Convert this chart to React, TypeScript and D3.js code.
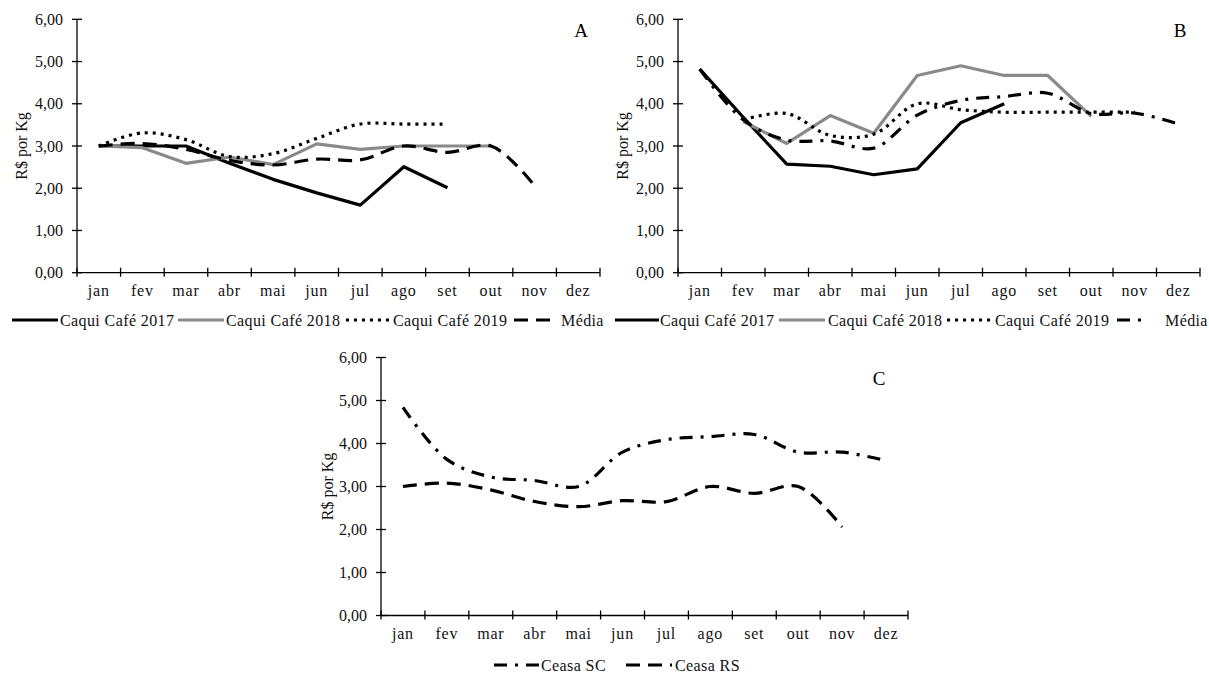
import React, { useEffect, useRef } from "react";
import * as d3 from "d3";

const months = ["jan", "fev", "mar", "abr", "mai", "jun", "jul", "ago", "set", "out", "nov", "dez"];
const yTicks = [0, 1, 2, 3, 4, 5, 6];

// Painel A
const caqui2017A = [3.0, 3.0, 3.0, 2.59, 2.21, 1.89, 1.6, 2.51, 2.01, null, null, null];
const caqui2018A = [3.0, 2.96, 2.59, 2.74, 2.56, 3.05, 2.92, 3.0, 3.0, 3.0, null, null];
const caqui2019A = [3.0, 3.31, 3.15, 2.75, 2.82, 3.18, 3.52, 3.52, 3.52, null, null, null];
const mediaA = [3.0, 3.06, 2.92, 2.66, 2.55, 2.69, 2.67, 3.0, 2.85, 3.0, 2.06, null];

// Painel B
const caqui2017B = [4.82, 3.68, 2.57, 2.52, 2.32, 2.46, 3.55, 4.0, null, null, null, null];
const caqui2018B = [null, 3.58, 3.06, 3.72, 3.3, 4.67, 4.9, 4.67, 4.67, 3.7, null, null];
const caqui2019B = [null, 3.62, 3.77, 3.25, 3.28, 4.0, 3.86, 3.8, 3.8, 3.8, 3.8, null];
const mediaB = [4.82, 3.62, 3.14, 3.12, 2.95, 3.73, 4.08, 4.17, 4.25, 3.77, 3.78, 3.52];

// Painel C
const ceasaSC = [4.84, 3.63, 3.22, 3.14, 3.0, 3.8, 4.09, 4.16, 4.21, 3.8, 3.8, 3.6];
const ceasaRS = [3.0, 3.08, 2.92, 2.65, 2.53, 2.67, 2.65, 3.0, 2.84, 3.0, 2.06, null];

const FONT = "'Liberation Serif', 'Times New Roman', serif";

type Style = { color: string; dash: string | null; smooth: boolean };
const solidBlack: Style = { color: "#000", dash: null, smooth: false };
const solidGray: Style = { color: "#8a8a8a", dash: null, smooth: false };
const dotted: Style = { color: "#000", dash: "3,5", smooth: true };
const dashed: Style = { color: "#000", dash: "14,8", smooth: true };
const dashDot: Style = { color: "#000", dash: "13,8,3,8", smooth: true };

interface Series { name: string; values: (number | null)[]; style: Style }
interface LegendItem { label: string; style: Style; x1: number; x2: number; tx: number }
interface Panel {
  left: number; right: number; top: number; bottom: number;
  letter: string; letterX: number; letterY: number;
  titleX: number;
  series: Series[];
  legendY: number;
  legend: LegendItem[];
}

const panels: Panel[] = [
  {
    left: 77, right: 600, top: 19.3, bottom: 272.7,
    letter: "A", letterX: 581, letterY: 37, titleX: 21,
    series: [
      { name: "Caqui Café 2017", values: caqui2017A, style: solidBlack },
      { name: "Caqui Café 2018", values: caqui2018A, style: solidGray },
      { name: "Caqui Café 2019", values: caqui2019A, style: dotted },
      { name: "Média", values: mediaA, style: dashed },
    ],
    legendY: 320,
    legend: [
      { label: "Caqui Café 2017", style: solidBlack, x1: 12, x2: 58, tx: 60 },
      { label: "Caqui Café 2018", style: solidGray, x1: 178, x2: 224, tx: 226 },
      { label: "Caqui Café 2019", style: dotted, x1: 346, x2: 390, tx: 393 },
      { label: "Média", style: dashed, x1: 514, x2: 554, tx: 561 },
    ],
  },
  {
    left: 678, right: 1200, top: 19.3, bottom: 272.7,
    letter: "B", letterX: 1180, letterY: 37, titleX: 622,
    series: [
      { name: "Caqui Café 2017", values: caqui2017B, style: solidBlack },
      { name: "Caqui Café 2018", values: caqui2018B, style: solidGray },
      { name: "Caqui Café 2019", values: caqui2019B, style: dotted },
      { name: "Média", values: mediaB, style: dashDot },
    ],
    legendY: 320,
    legend: [
      { label: "Caqui Café 2017", style: solidBlack, x1: 615, x2: 659, tx: 660 },
      { label: "Caqui Café 2018", style: solidGray, x1: 779, x2: 825, tx: 828 },
      { label: "Caqui Café 2019", style: dotted, x1: 947, x2: 991, tx: 995 },
      { label: "Média", style: dashDot, x1: 1117, x2: 1149, tx: 1165 },
    ],
  },
  {
    left: 381, right: 908, top: 357.5, bottom: 615.5,
    letter: "C", letterX: 879, letterY: 385, titleX: 327,
    series: [
      { name: "Ceasa SC", values: ceasaSC, style: dashDot },
      { name: "Ceasa RS", values: ceasaRS, style: dashed },
    ],
    legendY: 665,
    legend: [
      { label: "Ceasa SC", style: dashDot, x1: 494, x2: 540, tx: 541 },
      { label: "Ceasa RS", style: dashed, x1: 626, x2: 672, tx: 675 },
    ],
  },
];

function drawPanel(svg: d3.Selection<SVGSVGElement, unknown, null, undefined>, p: Panel) {
  const g = svg.append("g");
  const x = d3.scaleBand<string>().domain(months).range([p.left, p.right]);
  const y = d3.scaleLinear().domain([0, 6]).range([p.bottom, p.top]);
  const cx = (i: number) => (x(months[i]) as number) + x.bandwidth() / 2;

  // eixo y
  g.append("line")
    .attr("x1", p.left).attr("x2", p.left)
    .attr("y1", y(6)).attr("y2", y(0))
    .attr("stroke", "#000").attr("stroke-width", 1.3);
  yTicks.forEach((t) => {
    g.append("line")
      .attr("x1", p.left - 5).attr("x2", p.left + 5)
      .attr("y1", y(t)).attr("y2", y(t))
      .attr("stroke", "#000").attr("stroke-width", 1.3);
    g.append("text")
      .attr("x", p.left - 14).attr("y", y(t)).attr("dy", "0.35em")
      .attr("text-anchor", "end")
      .style("font-family", FONT).style("font-size", "16px").style("fill", "#111")
      .text(d3.format(".2f")(t).replace(".", ","));
  });

  // eixo x
  g.append("line")
    .attr("x1", p.left).attr("x2", p.right)
    .attr("y1", y(0)).attr("y2", y(0))
    .attr("stroke", "#000").attr("stroke-width", 1.3);
  const bounds = months.map((m) => x(m) as number).concat([p.right]);
  bounds.forEach((b) => {
    g.append("line")
      .attr("x1", b).attr("x2", b)
      .attr("y1", y(0) - 5).attr("y2", y(0) + 4)
      .attr("stroke", "#000").attr("stroke-width", 1.3);
  });
  months.forEach((m, i) => {
    g.append("text")
      .attr("x", cx(i)).attr("y", y(0) + 23.5)
      .attr("text-anchor", "middle")
      .style("font-family", FONT).style("font-size", "16px").style("fill", "#111")
      .style("letter-spacing", "0.8px")
      .text(m);
  });

  // título do eixo
  g.append("text")
    .attr("transform", `translate(${p.titleX},${(p.top + p.bottom) / 2}) rotate(-90)`)
    .attr("dy", "0.35em")
    .attr("text-anchor", "middle")
    .style("font-family", FONT).style("font-size", "16px").style("fill", "#111")
    .text("R$ por Kg");

  // letra do painel
  g.append("text")
    .attr("x", p.letterX).attr("y", p.letterY)
    .attr("text-anchor", "middle")
    .style("font-family", FONT).style("font-size", "19px").style("fill", "#000")
    .text(p.letter);

  // séries
  p.series.forEach((s) => {
    const pts = s.values.map((v, i) => ({ i, v }));
    const line = d3.line<{ i: number; v: number | null }>()
      .defined((d) => d.v !== null)
      .x((d) => cx(d.i))
      .y((d) => y(d.v as number))
      .curve(s.style.smooth ? d3.curveCatmullRom.alpha(0.5) : d3.curveLinear);
    g.append("path")
      .attr("d", line(pts))
      .attr("fill", "none")
      .attr("stroke", s.style.color)
      .attr("stroke-width", 3.2)
      .attr("stroke-linejoin", "round")
      .attr("stroke-dasharray", s.style.dash);
  });

  // legenda
  p.legend.forEach((l) => {
    g.append("line")
      .attr("x1", l.x1).attr("x2", l.x2)
      .attr("y1", p.legendY).attr("y2", p.legendY)
      .attr("stroke", l.style.color)
      .attr("stroke-width", 3.2)
      .attr("stroke-dasharray", l.style.dash);
    g.append("text")
      .attr("x", l.tx).attr("y", p.legendY).attr("dy", "0.35em")
      .style("font-family", FONT).style("font-size", "16px").style("fill", "#111")
      .style("letter-spacing", "0.4px")
      .text(l.label);
  });
}

export default function App() {
  const svgRef = useRef<SVGSVGElement | null>(null);

  useEffect(() => {
    if (!svgRef.current) return;
    const svg = d3.select(svgRef.current);
    svg.selectAll("*").remove();
    svg.append("rect").attr("width", 1209).attr("height", 675).attr("fill", "#fff");
    panels.forEach((p) => drawPanel(svg, p));
  }, []);

  return (
    <svg
      ref={svgRef}
      width={1209}
      height={675}
      style={{ position: "absolute", left: 0, top: 0, display: "block" }}
    />
  );
}
